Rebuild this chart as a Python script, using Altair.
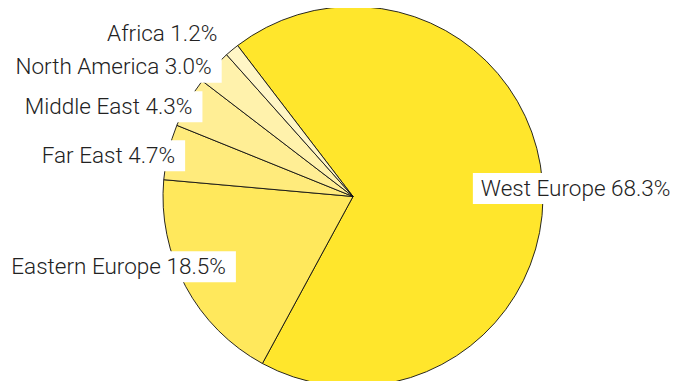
import math
import altair as alt
import pandas as pd

# ---- data ----
regions = ["West Europe", "Eastern Europe", "Far East", "Middle East", "North America", "Africa"]
shares = [68.3, 18.5, 4.7, 4.3, 3.0, 1.2]
colors = ["#FFE62C", "#FFE85C", "#FFEB7C", "#FFEE95", "#FFF2AC", "#FFF6C6"]

# ---- layout / style ----
W, H = 663, 373
CX, CY = 345, 188.5
R = 190
START = math.radians(-37.4)
FONT = "Roboto"
FS = 22.5

df = pd.DataFrame({"region": regions, "share": shares, "order": list(range(len(regions)))})

base = alt.Chart(df)

pie = base.mark_arc(outerRadius=R, stroke="#111111", strokeWidth=0.9).encode(
    theta=alt.Theta("share:Q", stack=True,
                    scale=alt.Scale(range=[START, START + 2 * math.pi])),
    order=alt.Order("order:Q"),
    color=alt.Color("region:N", scale=alt.Scale(domain=regions, range=colors), legend=None),
    x=alt.value(CX),
    y=alt.value(CY),
)

# label placement rule: big slices labelled inside the pie, small slices pushed outward
lab = base.transform_window(
    cum="sum(share)", sort=[alt.SortField("order")], frame=[None, 0]
).transform_joinaggregate(
    total="sum(share)"
).transform_calculate(
    mid=f"{START} + 2*PI*(datum.cum - datum.share/2)/datum.total",
    lr="datum.share > 10 ? 180 - 12.25*log(datum.share) : 217 - 22*log(datum.share)",
    label="datum.region + ' ' + format(datum.share, '.1f') + '%'",
).transform_calculate(
    lx=f"{CX} + datum.lr*sin(datum.mid)",
    ly=f"{CY} + 2 - datum.lr*cos(datum.mid)",
    right="sin(datum.mid) > 0",
    ew="length(datum.label)*11.2",
).transform_calculate(
    bx1="datum.right ? datum.lx - 8 : datum.lx - datum.ew - 10",
    bx2="datum.right ? datum.lx + datum.ew + 10 : datum.lx + 10",
    by1="datum.ly - 15.5",
    by2="datum.ly + 15.5",
)

boxes = lab.mark_rect(color="white").encode(
    x=alt.X("bx1:Q", scale=None, axis=None),
    x2="bx2:Q",
    y=alt.Y("by1:Q", scale=None, axis=None),
    y2="by2:Q",
)

txt_right = lab.transform_filter("datum.right").mark_text(
    align="left", baseline="middle", font=FONT, fontSize=FS, fontWeight=300, color="#222222"
).encode(
    x=alt.X("lx:Q", scale=None, axis=None),
    y=alt.Y("ly:Q", scale=None, axis=None),
    text="label:N",
)

txt_left = lab.transform_filter("!datum.right").mark_text(
    align="right", baseline="middle", font=FONT, fontSize=FS, fontWeight=300, color="#222222"
).encode(
    x=alt.X("lx:Q", scale=None, axis=None),
    y=alt.Y("ly:Q", scale=None, axis=None),
    text="label:N",
)

chart = alt.layer(pie, boxes, txt_right, txt_left).properties(
    width=W, height=H, padding=0,
    autosize=alt.AutoSizeParams(type="none"),
).configure_view(stroke=None)

chart.save("out.html", embed_options={"renderer": "svg", "actions": False})
